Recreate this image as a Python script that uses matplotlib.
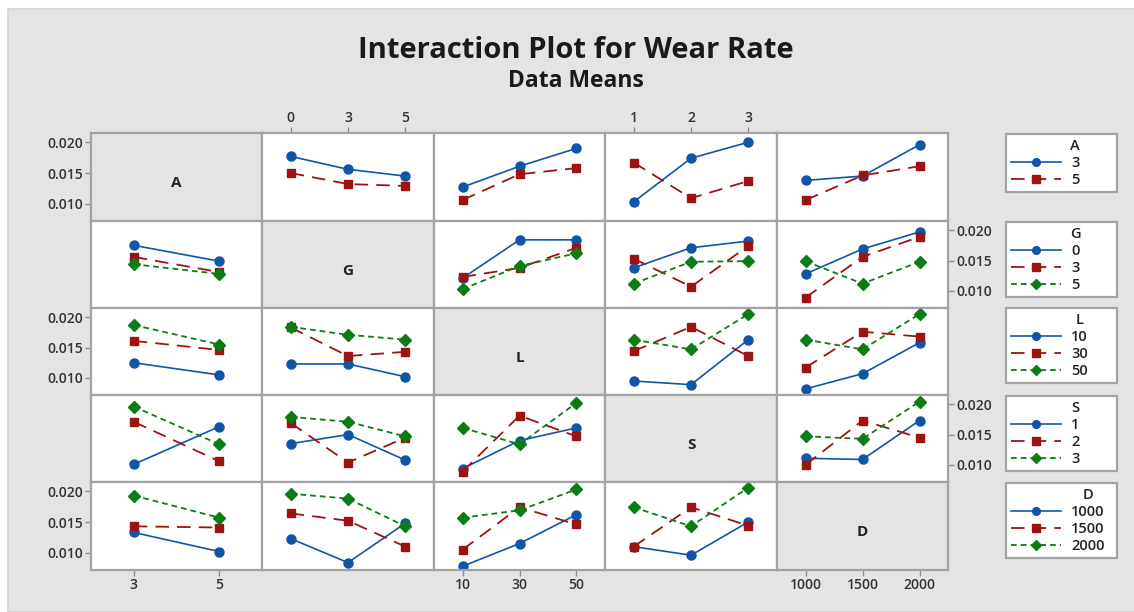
import matplotlib.pyplot as plt
from matplotlib.patches import Rectangle
from matplotlib.transforms import Bbox

# Factors and their levels
factors = ["A", "G", "L", "S", "D"]
A_levels = ["3", "5"]
G_levels = ["0", "3", "5"]
L_levels = ["10", "30", "50"]
S_levels = ["1", "2", "3"]
D_levels = ["1000", "1500", "2000"]

# Mean wear rate: one list per level of the row factor, values across the column factor
A_by_G = [[0.0177, 0.0156, 0.0145], [0.0150, 0.0132, 0.0129]]
A_by_L = [[0.0127, 0.0161, 0.0190], [0.0106, 0.0148, 0.0158]]
A_by_S = [[0.0103, 0.0174, 0.0200], [0.0167, 0.0109, 0.0137]]
A_by_D = [[0.0138, 0.0145, 0.0196], [0.0106, 0.0146, 0.0161]]

G_by_A = [[0.0175, 0.0149], [0.0156, 0.0131], [0.0144, 0.0128]]
G_by_L = [[0.0121, 0.0184, 0.0184], [0.0123, 0.0138, 0.0171], [0.0103, 0.0141, 0.0162]]
G_by_S = [[0.0138, 0.0171, 0.0182], [0.0153, 0.0107, 0.0174], [0.0112, 0.0148, 0.0149]]
G_by_D = [[0.0128, 0.0169, 0.0197], [0.0089, 0.0156, 0.0189], [0.0149, 0.0112, 0.0148]]

L_by_A = [[0.0125, 0.0105], [0.0161, 0.0146], [0.0187, 0.0155]]
L_by_G = [[0.0123, 0.0123, 0.0102], [0.0183, 0.0136, 0.0143], [0.0184, 0.0171, 0.0163]]
L_by_S = [[0.0095, 0.0089, 0.0163], [0.0144, 0.0184, 0.0136], [0.0163, 0.0147, 0.0205]]
L_by_D = [[0.0082, 0.0107, 0.0158], [0.0117, 0.0176, 0.0168], [0.0163, 0.0147, 0.0205]]

S_by_A = [[0.0101, 0.0163], [0.0171, 0.0106], [0.0196, 0.0134]]
S_by_G = [[0.0135, 0.0150, 0.0108], [0.0169, 0.0104, 0.0145], [0.0179, 0.0171, 0.0147]]
S_by_L = [[0.0094, 0.0140, 0.0161], [0.0089, 0.0181, 0.0147], [0.0161, 0.0134, 0.0202]]
S_by_D = [[0.0111, 0.0109, 0.0173], [0.0100, 0.0173, 0.0145], [0.0147, 0.0143, 0.0204]]

D_by_A = [[0.0133, 0.0102], [0.0143, 0.0141], [0.0193, 0.0157]]
D_by_G = [[0.0123, 0.0084, 0.0148], [0.0164, 0.0152, 0.0110], [0.0196, 0.0188, 0.0143]]
D_by_L = [[0.0078, 0.0115, 0.0162], [0.0105, 0.0174, 0.0146], [0.0157, 0.0169, 0.0203]]
D_by_S = [[0.0110, 0.0096, 0.0150], [0.0110, 0.0174, 0.0144], [0.0174, 0.0143, 0.0206]]

levels = {"A": A_levels, "G": G_levels, "L": L_levels, "S": S_levels, "D": D_levels}
means = {
    ("A", "G"): A_by_G, ("A", "L"): A_by_L, ("A", "S"): A_by_S, ("A", "D"): A_by_D,
    ("G", "A"): G_by_A, ("G", "L"): G_by_L, ("G", "S"): G_by_S, ("G", "D"): G_by_D,
    ("L", "A"): L_by_A, ("L", "G"): L_by_G, ("L", "S"): L_by_S, ("L", "D"): L_by_D,
    ("S", "A"): S_by_A, ("S", "G"): S_by_G, ("S", "L"): S_by_L, ("S", "D"): S_by_D,
    ("D", "A"): D_by_A, ("D", "G"): D_by_G, ("D", "L"): D_by_L, ("D", "S"): D_by_S,
}

plt.rcParams['font.family'] = ['Open Sans', 'DejaVu Sans']

W, H = 1134, 612
fig = plt.figure(figsize=(W / 100, H / 100), dpi=100)
fig.patch.set_facecolor('white')
fig.patches.append(Rectangle((8 / W, 0), 1, 1 - 9 / H, transform=fig.transFigure,
                             facecolor='#e4e4e4', edgecolor='#d2d2d2', lw=1.2, zorder=-10))

blue, red, green = '#0f56a8', '#9e1212', '#0b7d14'
styles = [
    dict(color=blue, ls='-', lw=1.2, marker='o', ms=6.5),
    dict(color=red, lw=1.3, marker='s', ms=6, dashes=(7.5, 4.5)),
    dict(color=green, lw=1.3, marker='D', ms=6.5, dashes=(3.2, 2.2)),
]

xs = [91, 262, 434, 605, 777, 948]
ys = [133, 221, 308, 395, 482, 570]
grid_col = '#a3a3a3'
ylim = (0.0072, 0.0215)
yticks = [0.010, 0.015, 0.020]
tick_font = dict(fontsize=10, fontweight='semibold', color='#333333')

row_handles = {}
for r, rf in enumerate(factors):
    for c, cf in enumerate(factors):
        rect = [xs[c] / W, 1 - ys[r + 1] / H, (xs[c + 1] - xs[c]) / W, (ys[r + 1] - ys[r]) / H]
        ax = fig.add_axes(rect)
        n = len(levels[cf])
        ax.set_xlim(-0.5, n - 0.5)
        ax.set_ylim(*ylim)
        for s in ax.spines.values():
            s.set_color(grid_col)
            s.set_linewidth(1.6)
        ax.tick_params(which='both', left=False, right=False, top=False, bottom=False,
                       labelleft=False, labelright=False, labeltop=False, labelbottom=False,
                       color='#8a8a8a', length=4, width=1, pad=2)
        ax.set_xticks(range(n))
        ax.set_xticklabels(levels[cf], **tick_font)
        ax.set_yticks(yticks)
        ax.set_yticklabels([f"{v:.3f}" for v in yticks], **tick_font)

        if r == c:
            ax.set_facecolor('#e4e4e4')
            ax.text(0.5, 0.43, rf, transform=ax.transAxes, ha='center', va='center',
                    fontsize=11, fontweight='bold', color='#222222')
        else:
            ax.set_facecolor('white')
            handles = []
            for k, vals in enumerate(means[(rf, cf)]):
                ln, = ax.plot(range(n), vals, label=levels[rf][k], **styles[k])
                handles.append(ln)
            row_handles.setdefault(rf, handles)

        # outer tick labels alternate between sides, as in a matrix plot
        if c == 0 and r % 2 == 0:
            ax.tick_params(left=True, labelleft=True)
        if c == 4 and r % 2 == 1:
            ax.tick_params(right=True, labelright=True)
        if r == 0 and c % 2 == 1:
            ax.tick_params(top=True, labeltop=True)
        if r == 4 and c % 2 == 0:
            ax.tick_params(bottom=True, labelbottom=True)

# one legend box per factor, stacked on the right
leg_tops = [134, 222, 308, 396, 483]
legends = []
for rf, top in zip(factors, leg_tops):
    leg = fig.legend(handles=row_handles[rf], title=rf, loc='upper left',
                     bbox_to_anchor=(1006 / W, 1 - top / H, 111 / W, 0.0),
                     mode='expand', borderaxespad=0, fancybox=False, frameon=True,
                     prop=dict(size=10.5, weight='semibold'),
                     title_fontproperties=dict(size=10.5, weight='semibold'),
                     handlelength=3.4, handletextpad=0.7,
                     labelspacing=0.2, borderpad=0.35, markerscale=0.85)
    fr = leg.get_frame()
    fr.set_edgecolor('#a3a3a3')
    fr.set_linewidth(1.6)
    fr.set_facecolor('white')
    fr.set_alpha(1)
    leg.get_title().set_color('#222222')
    for t in leg.get_texts():
        t.set_color('#222222')
    legends.append(leg)

fig.text(576 / W, 1 - 50 / H, "Interaction Plot for Wear Rate", ha='center', va='center',
         fontsize=21, fontweight='bold', color='#1a1a1a')
fig.text(576 / W, 1 - 81 / H, "Data Means", ha='center', va='center',
         fontsize=16.5, fontweight='bold', color='#1a1a1a')

# centre each legend title over its column of level labels
fig.canvas.draw()
renderer = fig.canvas.get_renderer()
for leg in legends:
    lab_box = Bbox.union([t.get_window_extent(renderer) for t in leg.get_texts()])
    title = leg.get_title()
    tb = title.get_window_extent(renderer)
    shift = (lab_box.x0 + lab_box.x1) / 2 - (tb.x0 + tb.x1) / 2
    x, y = title.get_position()
    title.set_position((x + shift, y))

fig.savefig('out.png', dpi=100)
